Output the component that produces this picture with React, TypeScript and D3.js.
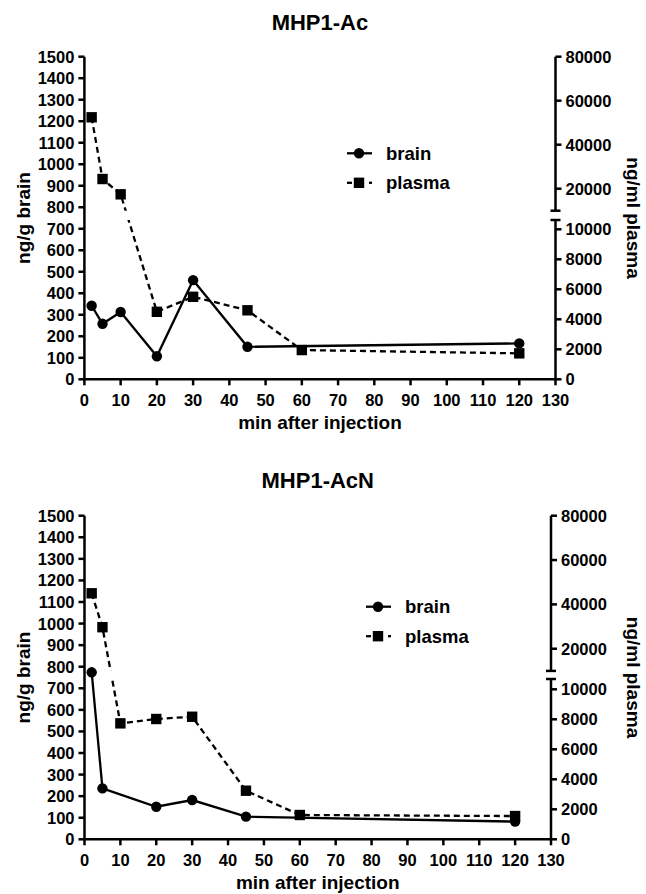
import React from "react";
import * as d3 from "d3";

const FONT = "'Liberation Sans', Arial, Helvetica, sans-serif";

// ---- data ----
const xTicks = [0, 10, 20, 30, 40, 50, 60, 70, 80, 90, 100, 110, 120, 130];
const leftTicks = [0, 100, 200, 300, 400, 500, 600, 700, 800, 900, 1000, 1100, 1200, 1300, 1400, 1500];
const rightLowerTicks = [0, 2000, 4000, 6000, 8000, 10000];
const rightUpperTicks = [20000, 40000, 60000, 80000];

const acBrainT = [2, 5, 10, 20, 30, 45, 120];
const acBrainV = [342, 258, 313, 107, 461, 151, 167];
const acPlasmaT = [2, 5, 10, 20, 30, 45, 60, 120];
const acPlasmaV = [52450, 24400, 17450, 4500, 5500, 4600, 1950, 1730];

const acnBrainT = [2, 5, 20, 30, 45, 120];
const acnBrainV = [774, 236, 151, 182, 105, 82];
const acnPlasmaT = [2, 5, 10, 20, 30, 45, 60, 120];
const acnPlasmaV = [45000, 29700, 7730, 8020, 8170, 3240, 1620, 1550];

type Cfg = {
  id: string;
  title: string;
  x0: number;
  x1: number;
  y0: number;
  y1: number;
  y10k: number;
  lowCap: number;
  upBottom: number;
  titleY: number;
  legX: number;
  legY: number;
};

const topCfg: Cfg = {
  id: "ac",
  title: "MHP1-Ac",
  x0: 84.4,
  x1: 555.5,
  y0: 379.3,
  y1: 56.7,
  y10k: 229.3,
  lowCap: 220,
  upBottom: 210.7,
  titleY: 30,
  legX: 359,
  legY: 153.3,
};

const botCfg: Cfg = {
  id: "acn",
  title: "MHP1-AcN",
  x0: 84.5,
  x1: 551,
  y0: 839.3,
  y1: 515.7,
  y10k: 689.3,
  lowCap: 679,
  upBottom: 670.9,
  titleY: 488,
  legX: 378,
  legY: 606.7,
};

function Panel({ cfg, bT, bV, pT, pV }: { cfg: Cfg; bT: number[]; bV: number[]; pT: number[]; pV: number[] }) {
  const x = d3.scaleLinear().domain([0, 130]).range([cfg.x0, cfg.x1]);
  const yL = d3.scaleLinear().domain([0, 1500]).range([cfg.y0, cfg.y1]);
  const yLow = d3.scaleLinear().domain([0, 10000]).range([cfg.y0, cfg.y10k]);
  const yUp = d3.scaleLinear().domain([10000, 80000]).range([cfg.upBottom, cfg.y1]);
  const yP = (v: number) => (v >= 10000 ? yUp(v) : yLow(v));
  const line = d3.line();
  const brainPts: [number, number][] = bT.map((t, i) => [x(t), yL(bV[i])]);
  const plasmaPts: [number, number][] = pT.map((t, i) => [x(t), yP(pV[i])]);
  const brainPath = line(brainPts) || "";
  const plasmaPath = line(plasmaPts) || "";
  const xr = cfg.x1;
  const sw = 2.5;
  const lw = 2.3;
  const tickLen = 6;
  const fs = 16.5;
  const cx = (cfg.x0 + cfg.x1) / 2;
  const cy = (cfg.y0 + cfg.y1) / 2;
  const lx = cfg.legX;
  const ly = cfg.legY;
  const ly2 = ly + 29.5;
  return (
    <g>
      <defs>
        <clipPath id={`up-${cfg.id}`}>
          <rect x={0} y={0} width={646} height={cfg.upBottom} />
        </clipPath>
        <clipPath id={`low-${cfg.id}`}>
          <rect x={0} y={cfg.lowCap} width={646} height={894 - cfg.lowCap} />
        </clipPath>
      </defs>
      <text x={cx} y={cfg.titleY} textAnchor="middle" fontSize={22} fontWeight="bold">
        {cfg.title}
      </text>
      {/* x axis */}
      <line x1={cfg.x0 - 1.2} x2={xr + 1.2} y1={cfg.y0} y2={cfg.y0} stroke="#000" strokeWidth={sw} />
      {xTicks.map((t) => (
        <g key={`x${t}`}>
          <line x1={x(t)} x2={x(t)} y1={cfg.y0} y2={cfg.y0 + tickLen} stroke="#000" strokeWidth={sw} />
          <text x={x(t)} y={cfg.y0 + 27} textAnchor="middle" fontSize={fs} fontWeight="bold">
            {t}
          </text>
        </g>
      ))}
      <text x={cx} y={cfg.y0 + 50} textAnchor="middle" fontSize={19} fontWeight="bold">
        min after injection
      </text>
      {/* left axis */}
      <line x1={cfg.x0} x2={cfg.x0} y1={cfg.y0} y2={cfg.y1} stroke="#000" strokeWidth={sw} />
      {leftTicks.map((t) => (
        <g key={`l${t}`}>
          <line x1={cfg.x0 - tickLen} x2={cfg.x0} y1={yL(t)} y2={yL(t)} stroke="#000" strokeWidth={sw} />
          <text x={cfg.x0 - 10} y={yL(t) + 6} textAnchor="end" fontSize={fs} fontWeight="bold">
            {t}
          </text>
        </g>
      ))}
      <text
        transform={`translate(30,${cy}) rotate(-90)`}
        textAnchor="middle"
        fontSize={19}
        fontWeight="bold"
      >
        ng/g brain
      </text>
      {/* right axis, broken */}
      <line x1={xr} x2={xr} y1={cfg.y0} y2={cfg.lowCap} stroke="#000" strokeWidth={sw} />
      <line x1={xr - 5} x2={xr + 5} y1={cfg.lowCap} y2={cfg.lowCap} stroke="#000" strokeWidth={sw} />
      <line x1={xr} x2={xr} y1={cfg.upBottom} y2={cfg.y1} stroke="#000" strokeWidth={sw} />
      <line x1={xr - 5} x2={xr + 5} y1={cfg.upBottom} y2={cfg.upBottom} stroke="#000" strokeWidth={sw} />
      {rightLowerTicks.map((t) => (
        <g key={`rl${t}`}>
          <line x1={xr} x2={xr + tickLen} y1={yLow(t)} y2={yLow(t)} stroke="#000" strokeWidth={sw} />
          <text x={xr + 10} y={yLow(t) + 6} textAnchor="start" fontSize={fs} fontWeight="bold">
            {t}
          </text>
        </g>
      ))}
      {rightUpperTicks.map((t) => (
        <g key={`ru${t}`}>
          <line x1={xr} x2={xr + tickLen} y1={yUp(t)} y2={yUp(t)} stroke="#000" strokeWidth={sw} />
          <text x={xr + 10} y={yUp(t) + 6} textAnchor="start" fontSize={fs} fontWeight="bold">
            {t}
          </text>
        </g>
      ))}
      <text
        transform={`translate(627,${cy}) rotate(90)`}
        textAnchor="middle"
        fontSize={19}
        fontWeight="bold"
      >
        ng/ml plasma
      </text>
      {/* series */}
      <path d={brainPath} fill="none" stroke="#000" strokeWidth={lw} />
      <g clipPath={`url(#up-${cfg.id})`}>
        <path d={plasmaPath} fill="none" stroke="#000" strokeWidth={lw} strokeDasharray="6,4" />
      </g>
      <g clipPath={`url(#low-${cfg.id})`}>
        <path d={plasmaPath} fill="none" stroke="#000" strokeWidth={lw} strokeDasharray="6,4" />
      </g>
      {brainPts.map((p, i) => (
        <circle key={`b${i}`} cx={p[0]} cy={p[1]} r={5.2} fill="#000" />
      ))}
      {plasmaPts.map((p, i) => (
        <rect key={`p${i}`} x={p[0] - 5.2} y={p[1] - 5.2} width={10.4} height={10.4} fill="#000" />
      ))}
      {/* legend */}
      <line x1={lx - 12} x2={lx + 13} y1={ly} y2={ly} stroke="#000" strokeWidth={lw} />
      <circle cx={lx} cy={ly} r={5.2} fill="#000" />
      <text x={lx + 27} y={ly + 6.5} fontSize={18.5} fontWeight="bold">
        brain
      </text>
      <line x1={lx - 12} x2={lx - 7} y1={ly2} y2={ly2} stroke="#000" strokeWidth={lw} />
      <rect x={lx - 5.2} y={ly2 - 5.2} width={10.4} height={10.4} fill="#000" />
      <line x1={lx + 10} x2={lx + 13} y1={ly2} y2={ly2} stroke="#000" strokeWidth={lw} />
      <text x={lx + 27} y={ly2 + 6.5} fontSize={18.5} fontWeight="bold">
        plasma
      </text>
    </g>
  );
}

export default function App() {
  return (
    <svg
      width={646}
      height={894}
      viewBox="0 0 646 894"
      style={{ position: "absolute", left: 0, top: 0, background: "#fff" }}
      fontFamily={FONT}
      fill="#000"
    >
      <rect x={0} y={0} width={646} height={894} fill="#fff" />
      <Panel cfg={topCfg} bT={acBrainT} bV={acBrainV} pT={acPlasmaT} pV={acPlasmaV} />
      <Panel cfg={botCfg} bT={acnBrainT} bV={acnBrainV} pT={acnPlasmaT} pV={acnPlasmaV} />
    </svg>
  );
}
